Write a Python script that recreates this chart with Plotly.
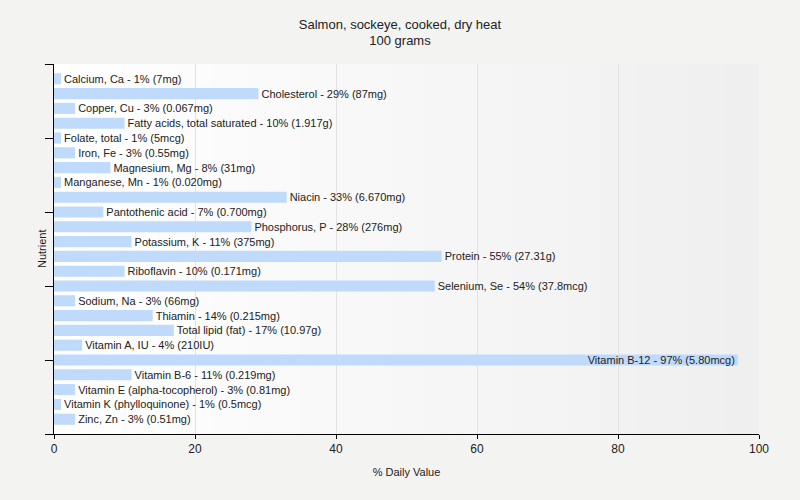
import plotly.graph_objects as go

nutrients = [
    "Calcium, Ca", "Cholesterol", "Copper, Cu", "Fatty acids, total saturated",
    "Folate, total", "Iron, Fe", "Magnesium, Mg", "Manganese, Mn", "Niacin",
    "Pantothenic acid", "Phosphorus, P", "Potassium, K", "Protein", "Riboflavin",
    "Selenium, Se", "Sodium, Na", "Thiamin", "Total lipid (fat)", "Vitamin A, IU",
    "Vitamin B-12", "Vitamin B-6", "Vitamin E (alpha-tocopherol)",
    "Vitamin K (phylloquinone)", "Zinc, Zn",
]
daily_value_pct = [1, 29, 3, 10, 1, 3, 8, 1, 33, 7, 28, 11, 55, 10, 54, 3, 14, 17, 4, 97, 11, 3, 1, 3]
amounts = [
    "7mg", "87mg", "0.067mg", "1.917g", "5mcg", "0.55mg", "31mg", "0.020mg", "6.670mg",
    "0.700mg", "276mg", "375mg", "27.31g", "0.171mg", "37.8mcg", "66mg", "0.215mg",
    "10.97g", "210IU", "5.80mcg", "0.219mg", "0.81mg", "0.5mcg", "0.51mg",
]

labels = [f"{n} - {v}% ({a})" for n, v, a in zip(nutrients, daily_value_pct, amounts)]
positions = ["inside" if v > 90 else "outside" for v in daily_value_pct]
rows = list(range(len(nutrients)))

font_family = "Liberation Sans, Arial, sans-serif"
text_color = "#222222"

fig = go.Figure()
fig.add_trace(go.Bar(
    x=daily_value_pct,
    y=rows,
    orientation="h",
    width=0.75,
    marker=dict(color="#c0dafc", line=dict(width=0)),
    text=labels,
    textposition=positions,
    insidetextanchor="end",
    constraintext="none",
    cliponaxis=False,
    textfont=dict(family=font_family, size=11, color=text_color),
    hoverinfo="skip",
))

# gradient-like plot background (white -> light grey)
shapes = []
n_strips = 40
for i in range(n_strips):
    t = i / (n_strips - 1)
    c = int(round(255 - t * (255 - 239)))
    shapes.append(dict(
        type="rect", xref="x domain", yref="y domain",
        x0=i / n_strips, x1=(i + 1) / n_strips, y0=0, y1=1,
        fillcolor=f"rgb({c},{c},{c})", line=dict(width=0), layer="below",
    ))

fig.update_layout(
    width=800, height=500,
    margin=dict(l=54, r=41, t=64, b=66),
    paper_bgcolor="#f3f3f2",
    plot_bgcolor="rgba(0,0,0,0)",
    showlegend=False,
    shapes=shapes,
    title=dict(
        text="Salmon, sockeye, cooked, dry heat<br>100 grams",
        x=0.5, xanchor="center", y=0.943, yanchor="top",
        font=dict(family=font_family, size=13, color=text_color),
    ),
    xaxis=dict(
        range=[0, 100], tick0=0, dtick=20,
        showgrid=True, gridcolor="#e2e2e2", gridwidth=1,
        showline=True, linecolor="#000000", linewidth=1,
        ticks="outside", ticklen=4, tickcolor="#000000",
        tickfont=dict(family=font_family, size=12, color=text_color),
        title=dict(text="% Daily Value", font=dict(family=font_family, size=11, color=text_color), standoff=12),
        zeroline=False, fixedrange=True,
    ),
    yaxis=dict(
        range=[24, -1], tickmode="linear", tick0=-1, dtick=5,
        showticklabels=False, showgrid=False,
        showline=True, linecolor="#000000", linewidth=1,
        ticks="outside", ticklen=8, tickcolor="#000000",
        zeroline=False, fixedrange=True,
    ),
    annotations=[dict(
        text="Nutrient", textangle=-90, showarrow=False,
        xref="paper", yref="paper", x=0, y=0.5, xanchor="right", yanchor="middle",
        xshift=-4, font=dict(family=font_family, size=11, color=text_color),
    )],
    bargap=0.25,
)

fig.write_html(
    "out.html",
    config={"displayModeBar": False, "staticPlot": True},
    post_script="document.body.style.margin='0';document.body.style.padding='0';",
)
